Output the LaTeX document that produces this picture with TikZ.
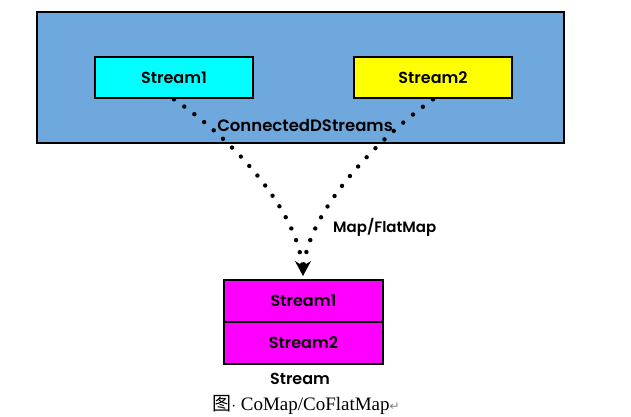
\documentclass[tikz,border=0pt]{standalone}
\usepackage{fontspec}
\setmainfont{Liberation Serif}
\newfontfamily\handfont{Poppins}[UprightFont=* SemiBold]
\newfontfamily\cjkfont{Noto Sans CJK SC}
\newfontfamily\symfont{DejaVu Sans}
\usetikzlibrary{arrows.meta}
\definecolor{panelblue}{RGB}{111,168,220}
\definecolor{boxcyan}{RGB}{0,255,255}
\definecolor{boxyellow}{RGB}{255,255,0}
\definecolor{boxmagenta}{RGB}{255,0,255}
\tikzset{
  box/.style={draw=black,line width=2.6pt,minimum width=158pt,minimum height=41pt,inner sep=0pt,font=\handfont\fontsize{16}{18}\selectfont},
  lbl/.style={inner sep=0pt,font=\handfont\fontsize{16}{18}\selectfont},
  dots/.style={line width=4.4pt,line cap=round,dash pattern=on 0pt off 12.6pt}
}
\begin{document}
\begin{tikzpicture}[x=1pt,y=-1pt]
\useasboundingbox (0,0) rectangle (631,416);
\node[draw=black,line width=2.6pt,fill=panelblue,minimum width=527pt,minimum height=131pt] (conn) at (300.5,77.5) {};
\node[box,fill=boxcyan] (s1) at (174,77.5) {Stream1};
\node[box,fill=boxyellow] (s2) at (433,77.5) {Stream2};
\node[lbl,font=\handfont\fontsize{16.5}{18}\selectfont] (cds) at (305,125) {ConnectedDStreams};
\node[box,fill=boxmagenta,minimum width=159pt,minimum height=42pt] (m1) at (303.5,301) {Stream1};
\node[box,fill=boxmagenta,minimum width=159pt,minimum height=42pt] (m2) at (303.5,343) {Stream2};
\node[lbl] (st) at (300,379) {Stream};
\node[lbl,anchor=west,font=\handfont\fontsize{15}{17}\selectfont] (map) at (333,227) {Map/FlatMap};
\node[inner sep=0pt,font=\fontsize{19}{21}\selectfont] (cap) at (306,405) {{\cjkfont 图}$\cdot$ CoMap/CoFlatMap{\symfont\color{gray}\fontsize{12}{14}\selectfont ↵}};
\coordinate (tip) at (303,276);
\draw[dots] (s1.south) .. controls (234,140) and (303,215) .. (tip);
\draw[dots] (s2.south) .. controls (376,140) and (303,215) .. (tip);
\draw[line width=1pt,-{Stealth[length=15pt,width=16pt,inset=5pt]}] (303,262) -- (tip);
\end{tikzpicture}
\end{document}
